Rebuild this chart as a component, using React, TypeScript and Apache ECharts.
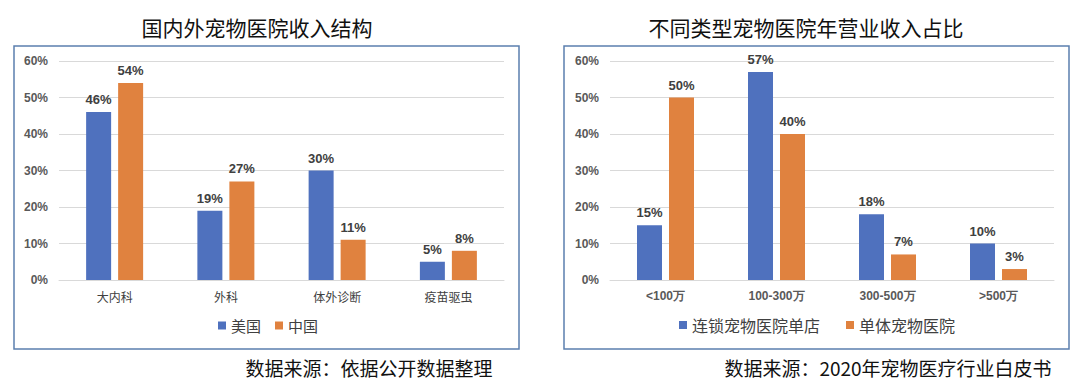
import React, { useEffect, useRef } from "react";
import * as echarts from "echarts";

const leftCategories = ["大内科", "外科", "体外诊断", "疫苗驱虫"];
const usValues = [46, 19, 30, 5];
const cnValues = [54, 27, 11, 8];

const rightCategories = ["<100万", "100-300万", "300-500万", ">500万"];
const chainValues = [15, 57, 18, 10];
const singleValues = [50, 40, 7, 3];

const leftTitle = "国内外宠物医院收入结构";
const rightTitle = "不同类型宠物医院年营业收入占比";
const leftSource = "数据来源：依据公开数据整理";
const rightSource = "数据来源：2020年宠物医疗行业白皮书";

const BLUE = "#4F71BE";
const ORANGE = "#E0823F";
const CJK = "'Noto Sans CJK SC', sans-serif";
const LATIN = "'Liberation Sans', Arial, sans-serif";

export default function App() {
  const ref = useRef<HTMLDivElement>(null);
  useEffect(() => {
    if (!ref.current) return;
    const chart = echarts.init(ref.current, null, { renderer: "svg" });
    const label = {
      show: true,
      position: "top",
      distance: 6,
      formatter: "{c}%",
      fontFamily: LATIN,
      fontWeight: "bold",
      fontSize: 13,
      color: "#404040",
    };
    const yAxisBase = {
      type: "value",
      min: 0,
      max: 60,
      interval: 10,
      axisLabel: {
        formatter: "{value}%",
        fontFamily: LATIN,
        fontWeight: "bold",
        fontSize: 12,
        color: "#595959",
        margin: 11,
      },
      splitLine: { lineStyle: { color: "#D9D9D9", width: 1 } },
      axisLine: { show: false },
      axisTick: { show: false },
    };
    const xAxisBase = {
      type: "category",
      axisLine: { lineStyle: { color: "#D9D9D9" } },
      axisTick: { show: false },
    };
    chart.setOption({
      animation: false,
      backgroundColor: "#ffffff",
      grid: [
        { left: 59, right: 576, top: 61, bottom: 105 },
        { left: 610, right: 26, top: 61, bottom: 105 },
      ],
      xAxis: [
        {
          ...xAxisBase,
          gridIndex: 0,
          data: leftCategories,
          axisLabel: { fontFamily: CJK, fontSize: 12, color: "#404040", margin: 10 },
        },
        {
          ...xAxisBase,
          gridIndex: 1,
          data: rightCategories,
          axisLabel: { fontFamily: LATIN, fontWeight: "bold", fontSize: 12, color: "#595959", margin: 10 },
        },
      ],
      yAxis: [
        { ...yAxisBase, gridIndex: 0 },
        { ...yAxisBase, gridIndex: 1 },
      ],
      legend: [
        {
          data: ["美国", "中国"],
          left: 218,
          top: 318,
          padding: 0,
          icon: "rect",
          itemWidth: 8,
          itemHeight: 8,
          itemGap: 14,
          textStyle: { fontFamily: CJK, fontSize: 15, color: "#404040" },
        },
        {
          data: ["连锁宠物医院单店", "单体宠物医院"],
          left: 679,
          top: 317,
          padding: 0,
          icon: "rect",
          itemWidth: 8,
          itemHeight: 8,
          itemGap: 26,
          textStyle: { fontFamily: CJK, fontSize: 16, color: "#404040" },
        },
      ],
      series: [
        {
          name: "美国",
          type: "bar",
          xAxisIndex: 0,
          yAxisIndex: 0,
          data: usValues,
          barWidth: 25,
          barGap: "28%",
          itemStyle: { color: BLUE },
          label,
        },
        {
          name: "中国",
          type: "bar",
          xAxisIndex: 0,
          yAxisIndex: 0,
          data: cnValues,
          barWidth: 25,
          barGap: "28%",
          itemStyle: { color: ORANGE },
          label,
        },
        {
          name: "连锁宠物医院单店",
          type: "bar",
          xAxisIndex: 1,
          yAxisIndex: 1,
          data: chainValues,
          barWidth: 25,
          barGap: "28%",
          itemStyle: { color: BLUE },
          label,
        },
        {
          name: "单体宠物医院",
          type: "bar",
          xAxisIndex: 1,
          yAxisIndex: 1,
          data: singleValues,
          barWidth: 25,
          barGap: "28%",
          itemStyle: { color: ORANGE },
          label,
        },
      ],
      graphic: [
        {
          type: "rect",
          shape: { x: 14, y: 46, width: 505, height: 303 },
          style: { fill: "none", stroke: "#5B7FAE", lineWidth: 1.5 },
          z: -1,
        },
        {
          type: "rect",
          shape: { x: 564, y: 46, width: 505, height: 303 },
          style: { fill: "none", stroke: "#5B7FAE", lineWidth: 1.5 },
          z: -1,
        },
        {
          type: "text",
          x: 257,
          y: 27,
          style: {
            text: leftTitle,
            align: "center",
            verticalAlign: "middle",
            font: `21px ${CJK}`,
            fill: "#111111",
          },
        },
        {
          type: "text",
          x: 806,
          y: 27,
          style: {
            text: rightTitle,
            align: "center",
            verticalAlign: "middle",
            font: `21px ${CJK}`,
            fill: "#111111",
          },
        },
        {
          type: "text",
          x: 369,
          y: 367,
          style: {
            text: leftSource,
            align: "center",
            verticalAlign: "middle",
            font: `19px ${CJK}`,
            fill: "#111111",
          },
        },
        {
          type: "text",
          x: 888,
          y: 367,
          style: {
            text: rightSource,
            align: "center",
            verticalAlign: "middle",
            font: `19px ${CJK}`,
            fill: "#111111",
          },
        },
      ],
    });
    return () => chart.dispose();
  }, []);
  return (
    <div
      ref={ref}
      style={{ position: "fixed", left: 0, top: 0, width: 1080, height: 385 }}
    />
  );
}
